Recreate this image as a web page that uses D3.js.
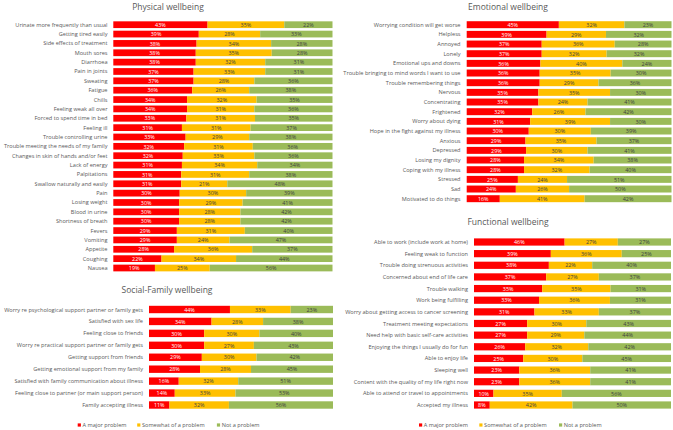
<!DOCTYPE html>
<html>
<head>
<meta charset="utf-8">
<script src="https://cdn.jsdelivr.net/npm/d3@7"></script>
<style>
  body { margin: 0; background: #fff; }
  svg { display: block; font-family: "Open Sans", sans-serif; }
</style>
</head>
<body>
<svg id="chart" width="673" height="430"></svg>
<script>
// series + colours
const seriesNames = ["A major problem", "Somewhat of a problem", "Not a problem"];
const seriesColors = ["#ff0000", "#ffc000", "#9bbb59"];

// Physical wellbeing
const physicalLabels = ["Urinate more frequently than usual", "Getting tired easily", "Side effects of treatment",
  "Mouth sores", "Diarrhoea", "Pain in joints", "Sweating", "Fatigue", "Chills", "Feeling weak all over",
  "Forced to spend time in bed", "Feeling ill", "Trouble controlling urine", "Trouble meeting the needs of my family",
  "Changes in skin of hands and/or feet", "Lack of energy", "Palpitations", "Swallow naturally and easily", "Pain",
  "Losing weight", "Blood in urine", "Shortness of breath", "Fevers", "Vomiting", "Appetite", "Coughing", "Nausea"];
const physicalMajor = [43, 39, 38, 38, 38, 37, 37, 36, 34, 34, 33, 31, 33, 32, 32, 31, 31, 31, 30, 30, 30, 30, 29, 29, 28, 22, 19];
const physicalSomewhat = [35, 28, 34, 35, 32, 33, 28, 26, 32, 31, 31, 31, 29, 31, 33, 34, 31, 21, 30, 29, 28, 28, 31, 24, 36, 34, 25];
const physicalNot = [22, 33, 28, 28, 31, 31, 36, 38, 35, 36, 35, 37, 38, 36, 36, 34, 38, 48, 39, 41, 42, 42, 40, 47, 37, 44, 56];

// Social-Family wellbeing
const socialLabels = ["Worry re psychological support partner or family gets", "Satisfied with sex life",
  "Feeling close to friends", "Worry re practical support partner or family gets", "Getting support from friends",
  "Getting emotional support from my family", "Satisfied with family communication about illness",
  "Feeling close to partner (or main support person)", "Family accepting illness"];
const socialMajor = [44, 34, 30, 30, 29, 28, 16, 14, 11];
const socialSomewhat = [33, 28, 30, 27, 30, 28, 32, 33, 32];
const socialNot = [23, 38, 40, 43, 42, 45, 51, 53, 56];

// Emotional wellbeing
const emotionalLabels = ["Worrying condition will get worse", "Helpless", "Annoyed", "Lonely", "Emotional ups and downs",
  "Trouble bringing to mind words I want to use", "Trouble remembering things", "Nervous", "Concentrating",
  "Frightened", "Worry about dying", "Hope in the fight against my illness", "Anxious", "Depressed",
  "Losing my dignity", "Coping with my illness", "Stressed", "Sad", "Motivated to do things"];
const emotionalMajor = [45, 39, 37, 37, 36, 36, 36, 35, 35, 32, 31, 30, 29, 29, 28, 28, 25, 24, 16];
const emotionalSomewhat = [32, 29, 36, 32, 40, 35, 29, 35, 24, 26, 39, 30, 35, 30, 34, 32, 24, 26, 41];
const emotionalNot = [23, 32, 28, 32, 24, 30, 36, 30, 41, 42, 30, 39, 37, 41, 38, 40, 51, 50, 42];

// Functional wellbeing
const functionalLabels = ["Able to work (include work at home)", "Feeling weak to function",
  "Trouble doing strenuous activities", "Concerned about end of life care", "Trouble walking",
  "Work being fulfilling", "Worry about getting access to cancer screening", "Treatment meeting expectations",
  "Need help with basic self-care activities", "Enjoying the things I usually do for fun", "Able to enjoy life",
  "Sleeping well", "Content with the quality of my life right now", "Able to attend or travel to appointments",
  "Accepted my illness"];
const functionalMajor = [46, 39, 38, 37, 35, 33, 31, 27, 27, 26, 25, 23, 23, 10, 8];
const functionalSomewhat = [27, 36, 22, 27, 35, 36, 33, 30, 29, 32, 30, 36, 36, 35, 42];
const functionalNot = [27, 25, 40, 37, 31, 31, 37, 43, 44, 42, 45, 41, 41, 56, 50];

const svg = d3.select("#chart");

function drawPanel(p) {
  let g = svg.append("g");

  // title
  g.append("text")
    .attr("x", p.titleX)
    .attr("y", p.titleY)
    .attr("text-anchor", "middle")
    .attr("dominant-baseline", "central")
    .attr("fill", "#595959")
    .style("font-size", "8.5px")
    .text(p.title);

  let rows = p.labels.map((l, i) => {
    let vals = [p.major[i], p.somewhat[i], p.not[i]];
    let total = d3.sum(vals), acc = 0;
    return {
      label: l,
      segs: vals.map((v, k) => {
        let s = { k: k, v: v, x0: acc / total, x1: (acc + v) / total };
        acc += v;
        return s;
      })
    };
  });

  let x = d3.scaleLinear().domain([0, 1]).range([p.left, p.right]);
  let y = d3.scalePoint().domain(p.labels).range([p.firstY, p.lastY]);
  let bh = y.step() * p.fill;

  // category labels
  g.selectAll("text.cat")
    .data(rows)
    .join("text")
    .attr("class", "cat")
    .attr("x", p.labelX)
    .attr("y", d => y(d.label))
    .attr("text-anchor", "end")
    .attr("dominant-baseline", "central")
    .attr("fill", "#595959")
    .style("font-size", "5.6px")
    .text(d => d.label);

  let row = g.selectAll("g.row")
    .data(rows)
    .join("g")
    .attr("class", "row")
    .attr("transform", d => `translate(0,${y(d.label)})`);

  row.selectAll("rect")
    .data(d => d.segs)
    .join("rect")
    .attr("x", d => x(d.x0))
    .attr("y", -bh / 2)
    .attr("width", d => x(d.x1) - x(d.x0))
    .attr("height", bh)
    .attr("fill", d => seriesColors[d.k]);

  row.selectAll("text")
    .data(d => d.segs)
    .join("text")
    .attr("x", d => (x(d.x0) + x(d.x1)) / 2)
    .attr("y", 0.2)
    .attr("text-anchor", "middle")
    .attr("dominant-baseline", "central")
    .attr("fill", d => d.k === 0 ? "#ffffff" : "#404040")
    .style("font-size", "5.4px")
    .text(d => d.v + "%");
}

function drawLegend(x0, yPos, gaps) {
  let lg = svg.append("g");
  let cx = x0;
  seriesNames.forEach((n, i) => {
    lg.append("rect")
      .attr("x", cx)
      .attr("y", yPos - 1.6)
      .attr("width", 3.2)
      .attr("height", 3.2)
      .attr("fill", seriesColors[i]);
    lg.append("text")
      .attr("x", cx + 4.8)
      .attr("y", yPos)
      .attr("dominant-baseline", "central")
      .attr("fill", "#595959")
      .style("font-size", "5.6px")
      .text(n);
    cx += gaps[i];
  });
}

drawPanel({ title: "Physical wellbeing", labels: physicalLabels, major: physicalMajor, somewhat: physicalSomewhat, not: physicalNot,
  titleX: 168, titleY: 6, labelX: 107.5, left: 113.3, right: 332.5, firstY: 24.7, lastY: 268, fill: 0.72 });
drawPanel({ title: "Social-Family wellbeing", labels: socialLabels, major: socialMajor, somewhat: socialSomewhat, not: socialNot,
  titleX: 167, titleY: 289, labelX: 143, left: 149, right: 333, firstY: 309.5, lastY: 405, fill: 0.62 });
drawPanel({ title: "Emotional wellbeing", labels: emotionalLabels, major: emotionalMajor, somewhat: emotionalSomewhat, not: emotionalNot,
  titleX: 508, titleY: 6, labelX: 460.5, left: 466.7, right: 671.5, firstY: 24.7, lastY: 198.7, fill: 0.72 });
drawPanel({ title: "Functional wellbeing", labels: functionalLabels, major: functionalMajor, somewhat: functionalSomewhat, not: functionalNot,
  titleX: 508, titleY: 221, labelX: 468, left: 474, right: 671, firstY: 242, lastY: 405, fill: 0.62 });

drawLegend(77.7, 425, [59.5, 79.7, 0]);
drawLegend(419, 425, [60.3, 79.7, 0]);
</script>
</body>
</html>
